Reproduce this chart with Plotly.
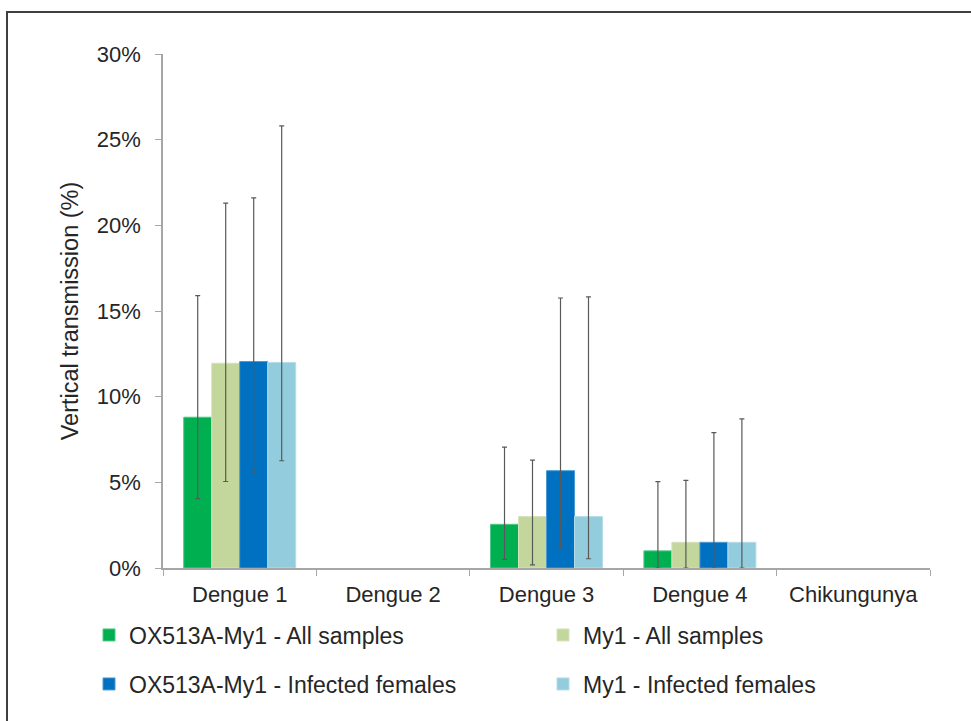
import plotly.graph_objects as go

categories = ["Dengue 1", "Dengue 2", "Dengue 3", "Dengue 4", "Chikungunya"]
series_names = ["OX513A-My1 - All samples", "My1 - All samples",
                "OX513A-My1 - Infected females", "My1 - Infected females"]
ox_all = [8.8, None, 2.55, 1.0, None]
ox_all_lo = [4.05, None, 0.5, 0.0, None]
ox_all_hi = [15.9, None, 7.06, 5.04, None]
my_all = [11.95, None, 3.0, 1.5, None]
my_all_lo = [5.05, None, 0.18, 0.0, None]
my_all_hi = [21.3, None, 6.3, 5.12, None]
ox_inf = [12.05, None, 5.68, 1.5, None]
ox_inf_lo = [5.6, None, 1.17, 0.0, None]
ox_inf_hi = [21.6, None, 15.76, 7.9, None]
my_inf = [12.0, None, 3.0, 1.5, None]
my_inf_lo = [6.26, None, 0.54, 0.0, None]
my_inf_hi = [25.8, None, 15.82, 8.7, None]

colors = ["#00B050", "#C3D69B", "#0070C0", "#93CDDD"]
edge_colors = ["#4DC885", "#D5E2BA", "#4D9AD3", "#B4DCE7"]
values = [ox_all, my_all, ox_inf, my_inf]
los = [ox_all_lo, my_all_lo, ox_inf_lo, my_inf_lo]
his = [ox_all_hi, my_all_hi, ox_inf_hi, my_inf_hi]
legend_ids = ["legend", "legend2", "legend3", "legend4"]

FONT = "Liberation Sans, Arial, sans-serif"
TXT = "#262626"

# plot area in pixels
L, R, T, B = 163, 930, 54, 568
W, H = R - L, B - T


def px_x(p):
    return (p - L) / W


def px_y(p):
    return (B - p) / H


fig = go.Figure()
for name, v, lo, hi, c, ec, lg in zip(series_names, values, los, his, colors, edge_colors, legend_ids):
    plus = [None if (a is None) else h - a for a, h in zip(v, hi)]
    minus = [None if (a is None) else a - l for a, l in zip(v, lo)]
    fig.add_trace(go.Bar(
        x=categories, y=v, name=name,
        marker=dict(color=c, line=dict(color=ec, width=1)),
        error_y=dict(type="data", array=plus, arrayminus=minus, symmetric=False,
                     color="#595959", thickness=1.2, width=2.5),
        legend=lg, showlegend=True,
    ))

legend_pos = {
    "legend": (89, 635),
    "legend2": (543, 635),
    "legend3": (89, 684),
    "legend4": (543, 684),
}
legend_layout = {}
for lid, (lx, ly) in legend_pos.items():
    legend_layout[lid] = dict(
        orientation="h", x=px_x(lx), xanchor="left", y=px_y(ly), yanchor="middle",
        font=dict(size=23, color=TXT, family=FONT), bgcolor="rgba(0,0,0,0)",
        borderwidth=0, visible=True,
    )

fig.update_layout(
    width=971, height=721,
    showlegend=True,
    margin=dict(l=L, r=971 - R, t=T, b=721 - B, autoexpand=False),
    paper_bgcolor="white", plot_bgcolor="white",
    barmode="group", bargap=0.27, bargroupgap=0,
    font=dict(family=FONT, color=TXT, size=22),
    xaxis=dict(
        showline=True, linecolor="#A6A6A6", linewidth=1.5,
        ticks="outside", ticklen=6, tickcolor="#A6A6A6", tickson="boundaries",
        tickfont=dict(size=22, color=TXT), showgrid=False, ticklabelstandoff=6,
    ),
    yaxis=dict(
        range=[0, 30], dtick=5, ticksuffix="%",
        showline=True, linecolor="#A6A6A6", linewidth=1.5,
        ticks="outside", ticklen=6, tickcolor="#A6A6A6",
        tickfont=dict(size=22, color=TXT), showgrid=False, zeroline=False,
        ticklabelstandoff=10,
        title=dict(text="Vertical transmission (%)", font=dict(size=23.5, color=TXT), standoff=12),
    ),
    shapes=[dict(type="rect", xref="paper", yref="paper",
                 x0=px_x(7), x1=1.2, y0=-0.5, y1=px_y(12),
                 line=dict(color="#3F3F3F", width=2), fillcolor="rgba(0,0,0,0)", layer="below")],
    **legend_layout,
)

fig.write_html("out.html", config={"displayModeBar": False},
               post_script="document.body.style.margin='0';")
